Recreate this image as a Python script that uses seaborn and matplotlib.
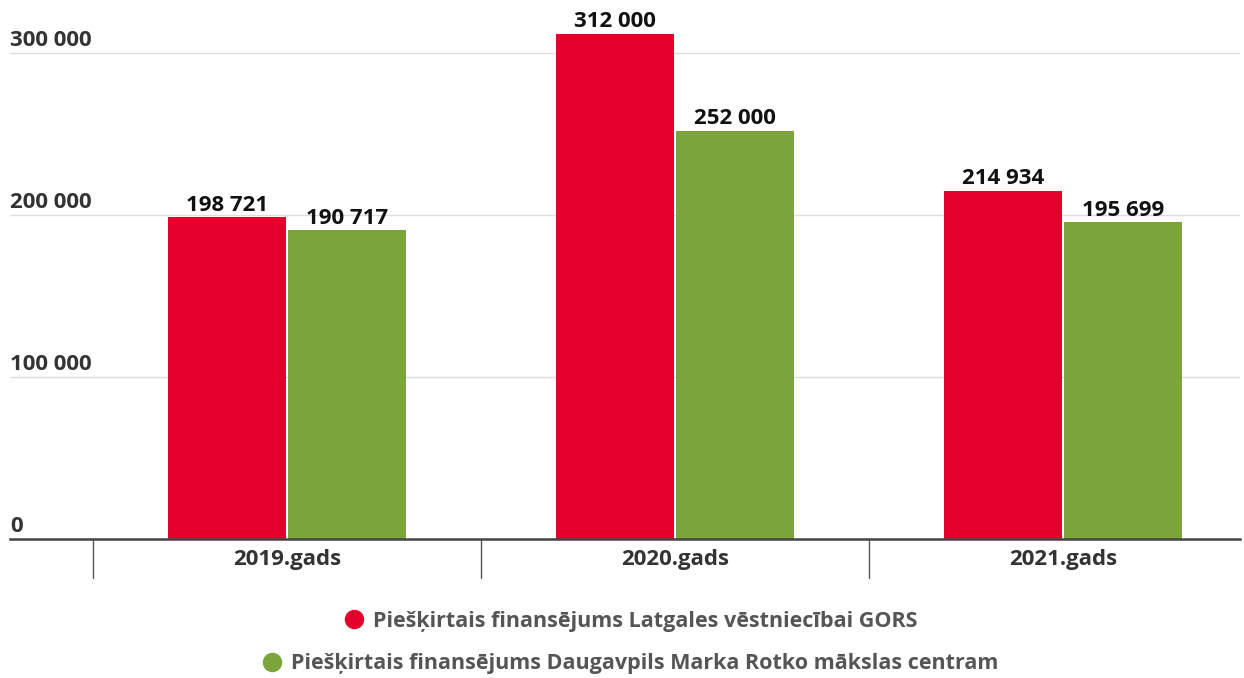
import matplotlib
matplotlib.use("Agg")
import matplotlib.pyplot as plt
import seaborn as sns
import pandas as pd
from matplotlib.lines import Line2D

categories = ["2019.gads", "2020.gads", "2021.gads"]
series_names = ["Piešķirtais finansējums Latgales vēstniecībai GORS",
                "Piešķirtais finansējums Daugavpils Marka Rotko mākslas centram"]
gors = [198721, 312000, 214934]
rotko = [190717, 252000, 195699]
yticks = [0, 100000, 200000, 300000]
ytick_labels = ["0", "100 000", "200 000", "300 000"]
colors = ["#E4002B", "#7BA43B"]

sns.set_theme(style="white")
plt.rcParams['font.family'] = ['Open Sans', 'DejaVu Sans']
plt.rcParams['font.weight'] = 'bold'

df = pd.DataFrame({
    "cat": categories * 2,
    "series": [series_names[0]] * 3 + [series_names[1]] * 3,
    "value": gors + rotko,
})

fig = plt.figure(figsize=(12.44, 6.78), dpi=100)
W, H = 1244, 678
ax = fig.add_axes([10 / W, 1 - 539 / H, 1230 / W, 539 / H])

sns.barplot(data=df, x="cat", y="value", hue="series", palette=colors,
            width=0.62, gap=0.02, ax=ax, legend=False, saturation=1,
            edgecolor="none")

ax.set_ylim(0, 539 / 162 * 100000)
ax.set_xlim(-0.714, 2.456)
ax.set_xlabel("")
ax.set_ylabel("")
for s in ["top", "right", "left"]:
    ax.spines[s].set_visible(False)
ax.spines["bottom"].set_color("#444444")
ax.spines["bottom"].set_linewidth(1.8)
ax.set_yticks(yticks)
ax.set_yticklabels([])
ax.tick_params(axis="y", length=0)
ax.tick_params(axis="x", length=0, pad=7)
ax.set_xticks(range(len(categories)))
ax.set_xticklabels(categories, fontsize=16, fontweight="bold", color="#333333")
for yv in yticks[1:]:
    ax.axhline(yv, color="#dddddd", lw=1, zorder=0)
for yv, lab in zip(yticks, ytick_labels):
    ax.text(0, yv + 4300, lab, transform=ax.get_yaxis_transform(), ha="left",
            va="baseline", fontsize=16, fontweight="bold", color="#333333")

# divider ticks below axis
for xb in [-0.5, 0.5, 1.5]:
    ax.plot([xb, xb], [0, -39 / 162 * 100000], color="#555555", lw=1,
            clip_on=False)

for cont in ax.containers:
    ax.bar_label(cont, labels=[f"{int(v):,}".replace(",", " ") for v in cont.datavalues],
                 padding=1, fontsize=16, fontweight="bold", color="#111111")

for i, (name, c) in enumerate(zip(series_names, colors)):
    h = Line2D([], [], marker="o", color="none", markerfacecolor=c,
               markeredgecolor=c, markersize=13)
    fig.legend([h], [name], loc="center", bbox_to_anchor=(629 / W, 1 - (621 + 43 * i) / H),
               frameon=False, handletextpad=0.3, handlelength=1.2,
               prop={"size": 15.5, "weight": "bold"}, labelcolor="#555555")

fig.savefig("out.png", dpi=100)
